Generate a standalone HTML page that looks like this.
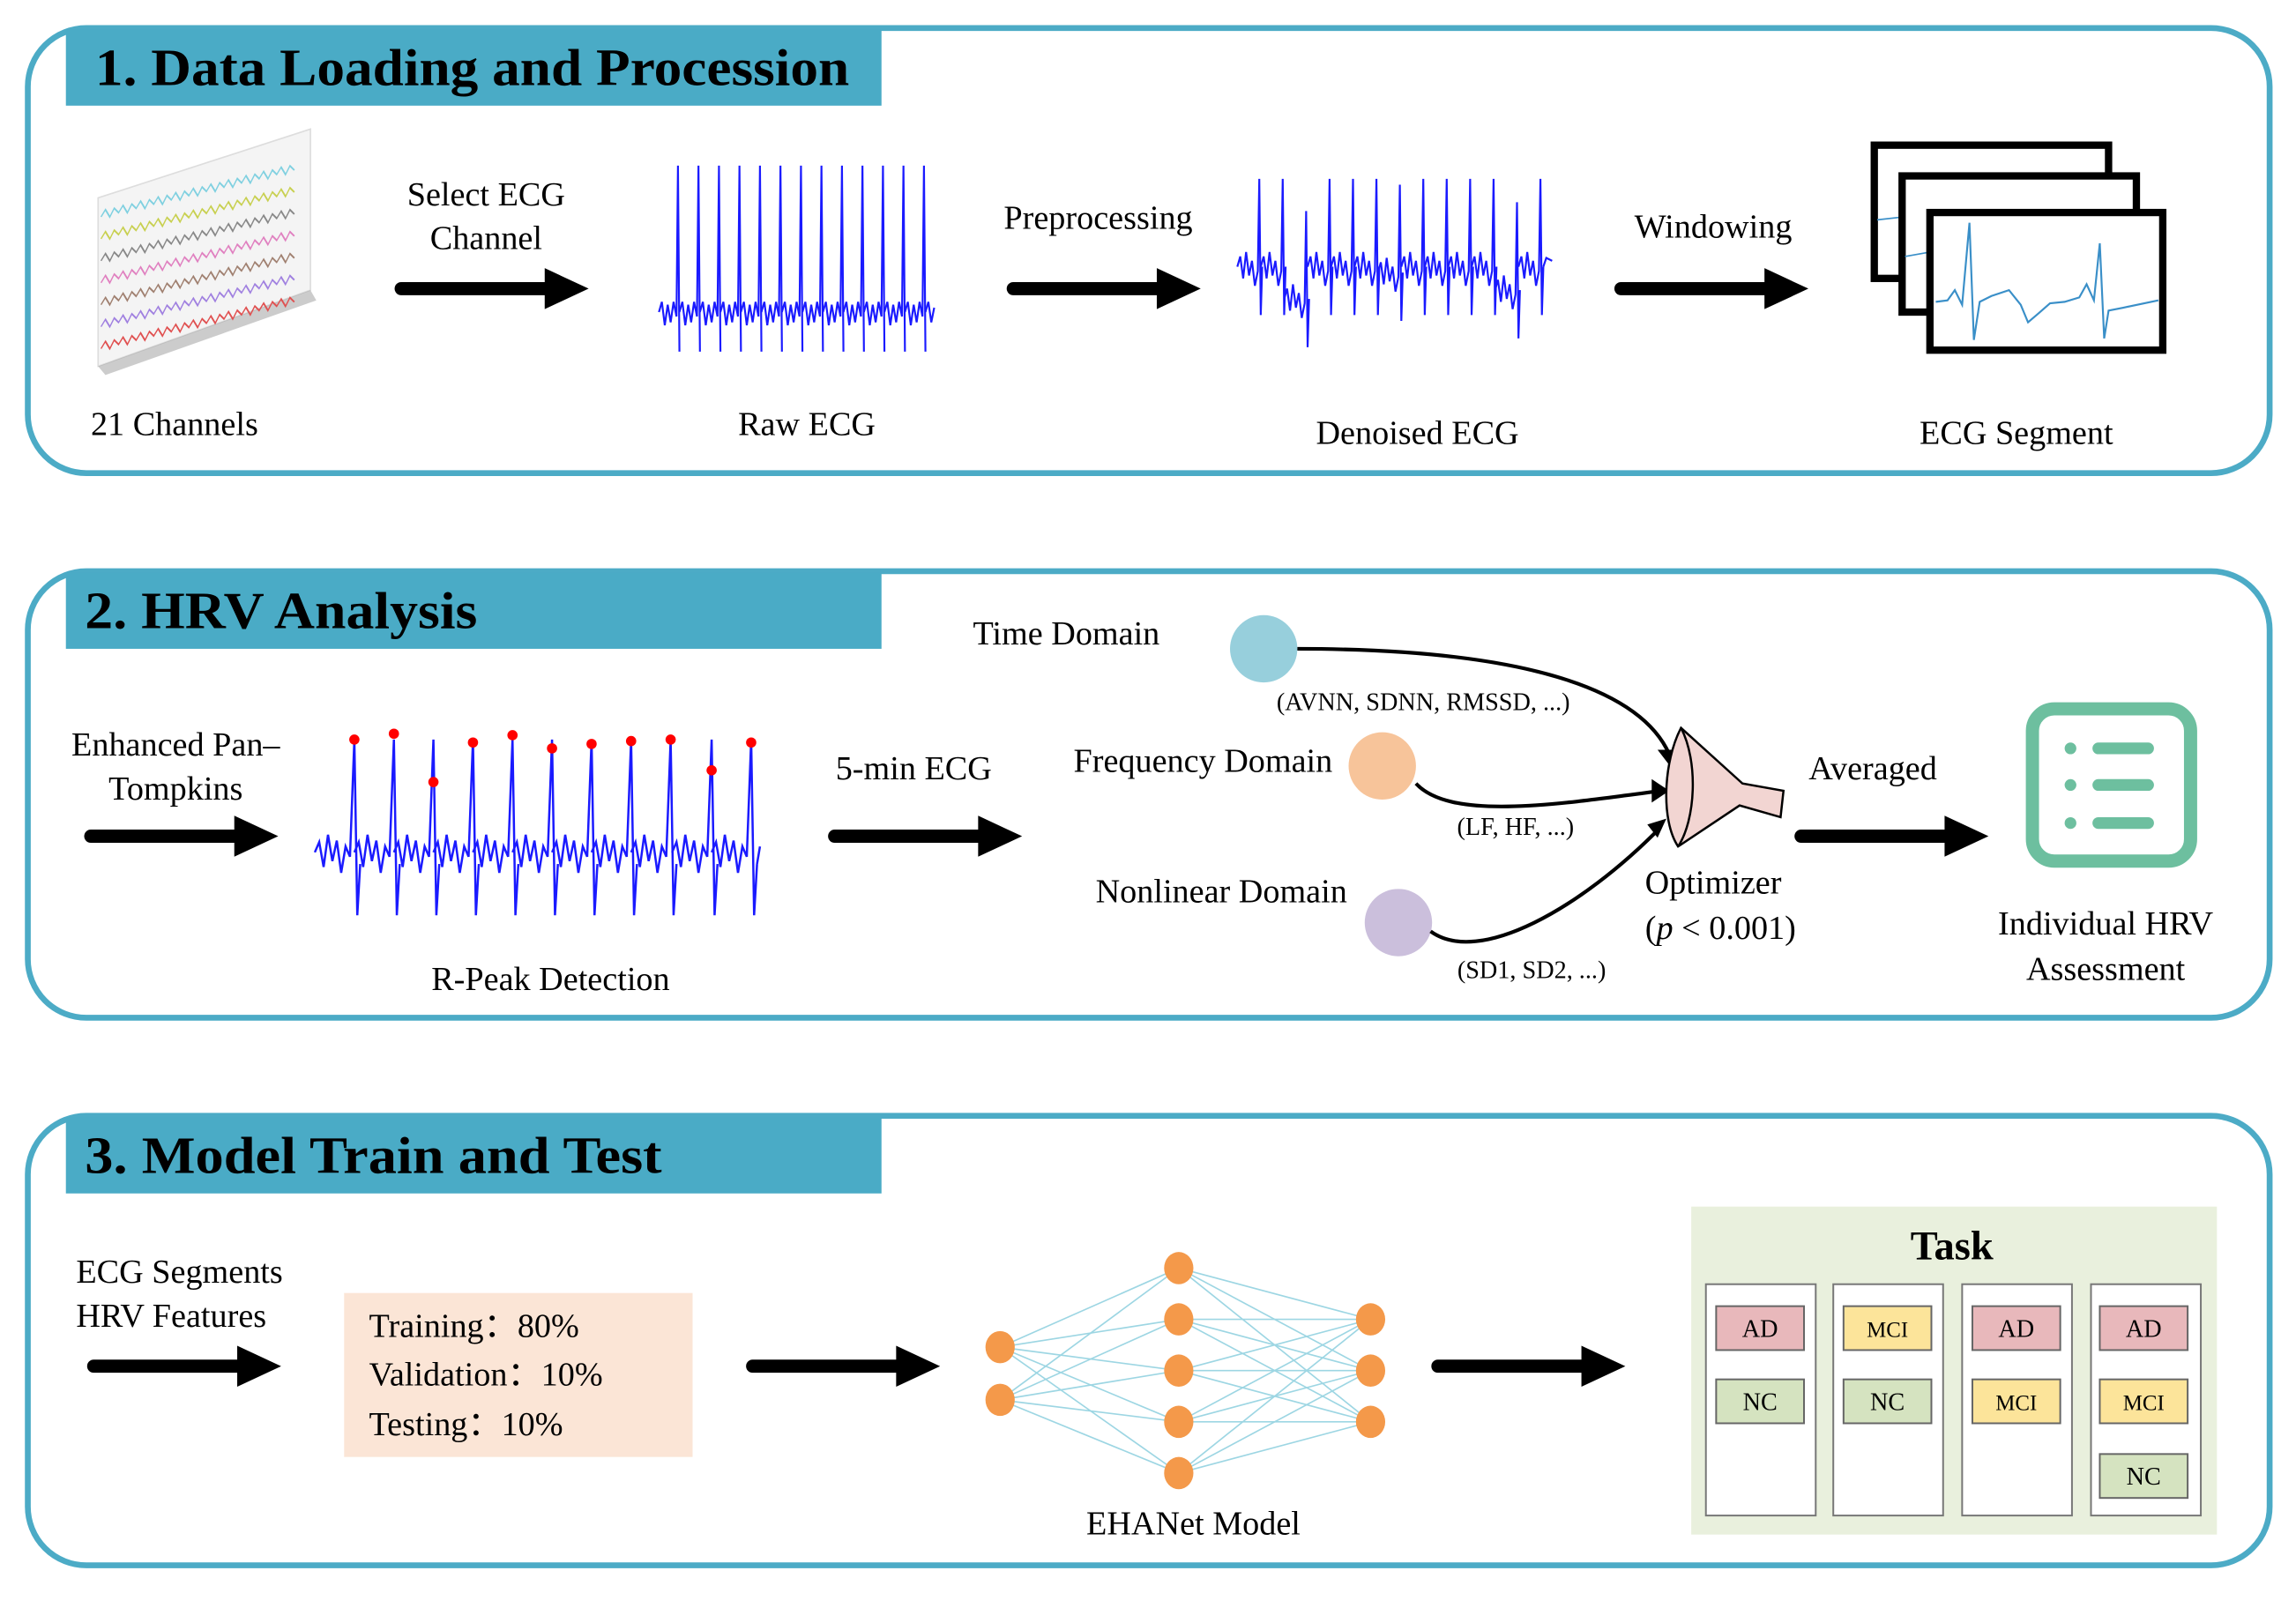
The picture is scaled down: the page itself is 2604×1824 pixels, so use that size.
<!DOCTYPE html>
<html><head><meta charset="utf-8"><style>html,body{margin:0;padding:0;background:#fff}svg{display:block}</style></head>
<body>
<svg width="2604" height="1824" viewBox="0 0 1568 1098" xmlns="http://www.w3.org/2000/svg" font-family="'Liberation Serif',serif">
<defs>
<g id="arr"><line x1="0" y1="0" x2="100" y2="0" stroke="#000" stroke-width="9" stroke-linecap="round"/><polygon points="98,-14 128,0 98,14" fill="#000"/></g>
<path id="zz" d="M0,0 l3,-4 l3,6 l3,-5 l3,4 l3,-4 l3,6 l3,-5 l3,4 l3,-4 l3,6 l3,-5 l3,4 l3,-4 l3,6 l3,-5 l3,4 l3,-4 l3,6 l3,-5 l3,4 l3,-4 l3,6 l3,-5 l3,4 l3,-4 l3,6 l3,-5 l3,4 l3,-4 l3,6 l3,-5 l3,4 l3,-4 l3,6 l3,-5 l3,4 l3,-4 l3,6 l3,-5 l3,4 l3,-4 l3,6 l3,-5 l3,4" fill="none" stroke-width="1"/>
<path id="rb" d="M-13,213 L-11,206 L-9,222 L-7,208 L-5,220 L-3,206 L-1,216 L0,113 L1,240" fill="none" stroke="#1a1aff" stroke-width="1.3"/>
<path id="db" d="M-15,182 L-13,175 L-11,190 L-9,172 L-7,188 L-5,178 L-3,195 L-1,185 L0,122 L1,215 L2,182" fill="none" stroke="#1a1aff" stroke-width="1.3"/>
<path id="pb" d="M-27,582 L-24,575 L-21,592 L-18,570 L-15,588 L-12,574 L-9,596 L-6,578 L-3,585 L0,505 L2,625 L4,590" fill="none" stroke="#1a1aff" stroke-width="1.5"/>
</defs>
<rect width="1568" height="1098" fill="#fff"/>
<rect x="19" y="19" width="1531" height="304" rx="40" fill="none" stroke="#4cabc6" stroke-width="4"/>
<rect x="45" y="20" width="557" height="52" fill="#4aabc6"/>
<text x="65" y="58" font-size="36" font-weight="bold" textLength="515" lengthAdjust="spacingAndGlyphs">1. Data Loading and Procession</text>
<rect x="19" y="390" width="1531" height="305" rx="40" fill="none" stroke="#4cabc6" stroke-width="4"/>
<rect x="45" y="391" width="557" height="52" fill="#4aabc6"/>
<text x="58" y="429" font-size="36" font-weight="bold" textLength="268" lengthAdjust="spacingAndGlyphs">2. HRV Analysis</text>
<rect x="19" y="762" width="1531" height="307" rx="40" fill="none" stroke="#4cabc6" stroke-width="4"/>
<rect x="45" y="763" width="557" height="52" fill="#4aabc6"/>
<text x="58" y="801" font-size="36" font-weight="bold" textLength="394" lengthAdjust="spacingAndGlyphs">3. Model Train and Test</text>

<g font-size="23" fill="#000">
<polygon points="67,135 212,88 212,198 67,250" fill="#f4f4f4" stroke="#ddd"/>
<polygon points="67,250 212,198 216,205 72,256" fill="#999" opacity="0.5"/>
<g transform="translate(69,0) skewY(-18)" >
<use href="#zz" y="148" stroke="#7fd0e0"/>
<use href="#zz" y="163" stroke="#c8d050"/>
<use href="#zz" y="178" stroke="#888"/>
<use href="#zz" y="193" stroke="#e080c0"/>
<use href="#zz" y="208" stroke="#a08070"/>
<use href="#zz" y="223" stroke="#a080e0"/>
<use href="#zz" y="238" stroke="#e05050"/>
</g>
<text x="62" y="297">21 Channels</text>
<text x="332" y="140" text-anchor="middle">Select ECG</text>
<text x="332" y="170" text-anchor="middle">Channel</text>
<use href="#arr" x="274" y="197"/>
<use href="#rb" x="463"/><use href="#rb" x="477"/><use href="#rb" x="491"/><use href="#rb" x="505"/><use href="#rb" x="519"/><use href="#rb" x="533"/><use href="#rb" x="547"/><use href="#rb" x="561"/><use href="#rb" x="575"/><use href="#rb" x="589"/><use href="#rb" x="603"/><use href="#rb" x="617"/><use href="#rb" x="631"/>
<path d="M632,213 L634,206 L636,220 L638,210" fill="none" stroke="#1a1aff" stroke-width="1.3"/>
<text x="551" y="297" text-anchor="middle">Raw ECG</text>
<text x="750" y="156" text-anchor="middle">Preprocessing</text>
<use href="#arr" x="692" y="197"/>
<use href="#db" x="860"/><use href="#db" x="876"/><use href="#db" x="892" y="22"/><use href="#db" x="908"/><use href="#db" x="924"/><use href="#db" x="940"/><use href="#db" x="956" y="4"/><use href="#db" x="972"/><use href="#db" x="988"/><use href="#db" x="1004"/><use href="#db" x="1020"/><use href="#db" x="1036" y="16"/><use href="#db" x="1052"/>
<path d="M1054,182 L1056,176 L1060,178" fill="none" stroke="#1a1aff" stroke-width="1.3"/>
<text x="968" y="303" text-anchor="middle">Denoised ECG</text>
<text x="1170" y="162" text-anchor="middle">Windowing</text>
<use href="#arr" x="1107" y="197"/>
<rect x="1280" y="99" width="160" height="91" fill="#fff" stroke="#000" stroke-width="5"/>
<path d="M1282,150 L1300,148" stroke="#3a8fc8" fill="none"/>
<rect x="1299" y="120" width="160" height="93" fill="#fff" stroke="#000" stroke-width="5"/>
<path d="M1301,175 L1318,172" stroke="#3a8fc8" fill="none"/>
<rect x="1318" y="145" width="159" height="94" fill="#fff" stroke="#000" stroke-width="5"/>
<path d="M1322,206 L1330,205 L1335,198 L1340,208 L1345,152 L1348,232 L1352,206 L1360,202 L1372,198 L1380,208 L1385,220 L1392,214 L1400,207 L1410,206 L1420,203 L1425,194 L1430,205 L1434,166 L1437,231 L1440,212 L1450,210 L1474,205" stroke="#3a8fc8" fill="none" stroke-width="1.3"/>
<text x="1377" y="303" text-anchor="middle">ECG Segment</text>

<text x="120" y="516" text-anchor="middle">Enhanced Pan–</text>
<text x="120" y="546" text-anchor="middle">Tompkins</text>
<use href="#arr" x="62" y="571"/>
<use href="#pb" x="242"/><use href="#pb" x="269"/><use href="#pb" x="296"/><use href="#pb" x="323"/><use href="#pb" x="350"/><use href="#pb" x="377"/><use href="#pb" x="404"/><use href="#pb" x="431"/><use href="#pb" x="458"/><use href="#pb" x="486"/><use href="#pb" x="513"/>
<path d="M517,590 L519,578" fill="none" stroke="#1a1aff" stroke-width="1.5"/>
<g fill="#f00">
<circle cx="242" cy="505" r="3.5"/><circle cx="269" cy="501" r="3.5"/><circle cx="296" cy="534" r="3.5"/><circle cx="323" cy="507" r="3.5"/><circle cx="350" cy="502" r="3.5"/><circle cx="377" cy="511" r="3.5"/><circle cx="404" cy="508" r="3.5"/><circle cx="431" cy="506" r="3.5"/><circle cx="458" cy="505" r="3.5"/><circle cx="486" cy="526" r="3.5"/><circle cx="513" cy="507" r="3.5"/>
</g>
<text x="376" y="676" text-anchor="middle">R-Peak Detection</text>
<text x="624" y="532" text-anchor="middle">5-min ECG</text>
<use href="#arr" x="570" y="571"/>
<text x="792" y="440" text-anchor="end">Time Domain</text>
<circle cx="863" cy="443" r="23" fill="#97cfdc"/>
<text x="972" y="485" text-anchor="middle" font-size="17">(AVNN, SDNN, RMSSD, ...)</text>
<text x="910" y="527" text-anchor="end">Frequency Domain</text>
<circle cx="944" cy="523" r="23" fill="#f7c49a"/>
<text x="1035" y="570" text-anchor="middle" font-size="17">(LF, HF, ...)</text>
<text x="920" y="616" text-anchor="end">Nonlinear Domain</text>
<circle cx="955" cy="630" r="23" fill="#cbbfdc"/>
<text x="1046" y="668" text-anchor="middle" font-size="17">(SD1, SD2, ...)</text>
<g fill="none" stroke="#000" stroke-width="2.5">
<path d="M886,443 C1040,443 1120,470 1140,515"/>
<path d="M967,535 C990,560 1060,550 1134,540"/>
<path d="M977,636 C1010,660 1080,620 1134,565"/>
</g>
<g fill="#000">
<polygon points="1132,512 1148,512 1142,525"/>
<polygon points="1128,532 1140,540 1128,548"/>
<polygon points="1125,563 1138,559 1132,572"/>
</g>
<path d="M1148,497 C1136,520 1134,560 1146,578 L1188,550 L1216,558 L1218,540 L1190,535 Z" fill="#f2d5d2" stroke="#000" stroke-width="1.5"/>
<path d="M1148,497 C1160,520 1158,560 1146,578" fill="none" stroke="#000" stroke-width="1.5"/>
<text x="1279" y="532" text-anchor="middle">Averaged</text>
<use href="#arr" x="1230" y="571"/>
<text x="1170" y="610" text-anchor="middle">Optimizer</text>
<text x="1175" y="641" text-anchor="middle">(<tspan font-style="italic">p</tspan> &lt; 0.001)</text>
<rect x="1388" y="484" width="108" height="104" rx="15" fill="none" stroke="#6dbf9f" stroke-width="9"/>
<g fill="#6dbf9f"><circle cx="1414" cy="511" r="4"/><circle cx="1414" cy="536" r="4"/><circle cx="1414" cy="562" r="4"/></g>
<g stroke="#6dbf9f" stroke-width="8" stroke-linecap="round"><line x1="1433" y1="511" x2="1467" y2="511"/><line x1="1433" y1="536" x2="1467" y2="536"/><line x1="1433" y1="562" x2="1467" y2="562"/></g>
<text x="1438" y="638" text-anchor="middle">Individual HRV</text>
<text x="1438" y="669" text-anchor="middle">Assessment</text>

<text x="52" y="876">ECG Segments</text>
<text x="52" y="906">HRV Features</text>
<use href="#arr" x="64" y="933"/>
<rect x="235" y="883" width="238" height="112" fill="#fbe5d6"/>
<text x="252" y="913">Training：80%</text>
<text x="252" y="946">Validation：10%</text>
<text x="252" y="980">Testing：10%</text>
<use href="#arr" x="514" y="933"/>
<g stroke="#9dd6e3" stroke-width="1">
<line x1="683" y1="920" x2="805" y2="866"/><line x1="683" y1="920" x2="805" y2="901"/><line x1="683" y1="920" x2="805" y2="936"/><line x1="683" y1="920" x2="805" y2="971"/><line x1="683" y1="920" x2="805" y2="1006"/>
<line x1="683" y1="956" x2="805" y2="866"/><line x1="683" y1="956" x2="805" y2="901"/><line x1="683" y1="956" x2="805" y2="936"/><line x1="683" y1="956" x2="805" y2="971"/><line x1="683" y1="956" x2="805" y2="1006"/>
<line x1="805" y1="866" x2="936" y2="901"/><line x1="805" y1="866" x2="936" y2="936"/><line x1="805" y1="866" x2="936" y2="971"/>
<line x1="805" y1="901" x2="936" y2="901"/><line x1="805" y1="901" x2="936" y2="936"/><line x1="805" y1="901" x2="936" y2="971"/>
<line x1="805" y1="936" x2="936" y2="901"/><line x1="805" y1="936" x2="936" y2="936"/><line x1="805" y1="936" x2="936" y2="971"/>
<line x1="805" y1="971" x2="936" y2="901"/><line x1="805" y1="971" x2="936" y2="936"/><line x1="805" y1="971" x2="936" y2="971"/>
<line x1="805" y1="1006" x2="936" y2="901"/><line x1="805" y1="1006" x2="936" y2="936"/><line x1="805" y1="1006" x2="936" y2="971"/>
</g>
<g fill="#f4994a">
<ellipse cx="683" cy="920" rx="10" ry="11"/><ellipse cx="683" cy="956" rx="10" ry="11"/>
<ellipse cx="805" cy="866" rx="10" ry="11"/><ellipse cx="805" cy="901" rx="10" ry="11"/><ellipse cx="805" cy="936" rx="10" ry="11"/><ellipse cx="805" cy="971" rx="10" ry="11"/><ellipse cx="805" cy="1006" rx="10" ry="11"/>
<ellipse cx="936" cy="901" rx="10" ry="11"/><ellipse cx="936" cy="936" rx="10" ry="11"/><ellipse cx="936" cy="971" rx="10" ry="11"/>
</g>
<text x="815" y="1048" text-anchor="middle">EHANet Model</text>
<use href="#arr" x="982" y="933"/>
<rect x="1155" y="824" width="359" height="224" fill="#e9f0dd"/>
<text x="1333" y="860" text-anchor="middle" font-size="28" font-weight="bold">Task</text>
<g stroke="#777" stroke-width="1.2" fill="#fff">
<rect x="1165" y="877" width="75" height="158"/><rect x="1252" y="877" width="75" height="158"/><rect x="1340" y="877" width="75" height="158"/><rect x="1428" y="877" width="75" height="158"/>
</g>
<g stroke="#666" stroke-width="1.2" font-size="17" text-anchor="middle">
<rect x="1172" y="892" width="60" height="30" fill="#e8b8bb"/><text x="1202" y="913" stroke="none">AD</text>
<rect x="1172" y="942" width="60" height="30" fill="#d5e3c0"/><text x="1202" y="963" stroke="none">NC</text>
<rect x="1259" y="892" width="60" height="30" fill="#fce49a"/><text x="1289" y="913" stroke="none" font-size="15">MCI</text>
<rect x="1259" y="942" width="60" height="30" fill="#d5e3c0"/><text x="1289" y="963" stroke="none">NC</text>
<rect x="1347" y="892" width="60" height="30" fill="#e8b8bb"/><text x="1377" y="913" stroke="none">AD</text>
<rect x="1347" y="942" width="60" height="30" fill="#fce49a"/><text x="1377" y="963" stroke="none" font-size="15">MCI</text>
<rect x="1434" y="892" width="60" height="30" fill="#e8b8bb"/><text x="1464" y="913" stroke="none">AD</text>
<rect x="1434" y="942" width="60" height="30" fill="#fce49a"/><text x="1464" y="963" stroke="none" font-size="15">MCI</text>
<rect x="1434" y="993" width="60" height="30" fill="#d5e3c0"/><text x="1464" y="1014" stroke="none">NC</text>
</g>
</g>
</svg>
</body></html>
